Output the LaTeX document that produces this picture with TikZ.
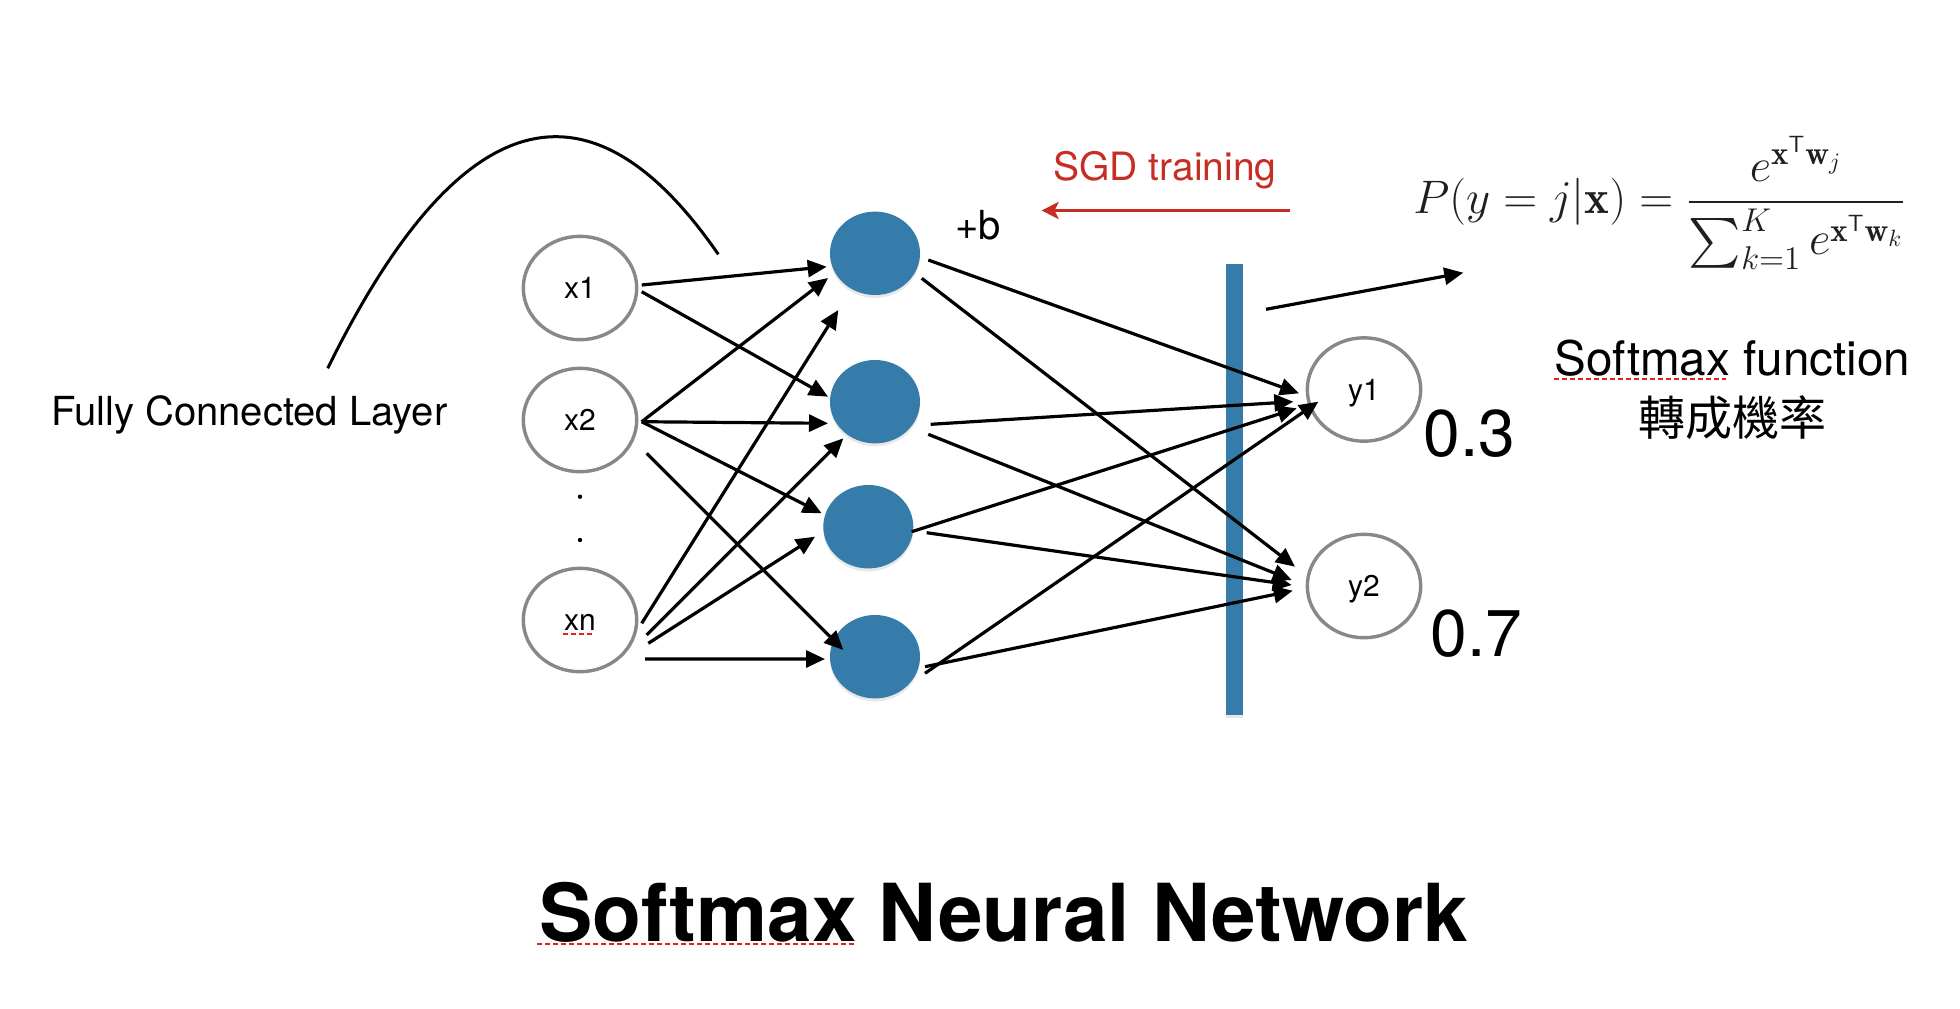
\RequirePackage{fix-cm}
\documentclass[tikz,border=0pt]{standalone}
\usepackage{amsmath}
\usepackage{fontspec}
\newfontfamily\hv{TeX Gyre Heros}
\newfontfamily\cjkfont{Noto Sans CJK TC}
\usetikzlibrary{arrows.meta,shapes.geometric,calc,shadows}
\definecolor{nnblue}{RGB}{54,124,170}
\definecolor{ringgray}{RGB}{134,136,140}
\definecolor{sgdred}{RGB}{200,45,35}
\definecolor{spellred}{RGB}{230,30,30}
\begin{document}
\begin{tikzpicture}[x=0.5pt,y=-0.5pt,
  inp/.style={ellipse, draw=ringgray, line width=1.7pt, minimum width=56.7pt,
    minimum height=51.7pt, inner sep=0pt, text height=10.5pt, text depth=0pt,
    font={\hv\fontsize{15}{18}\selectfont}},
  hid/.style={ellipse, fill=nnblue, minimum width=45pt, minimum height=41.7pt,
    inner sep=0pt, drop shadow={shadow xshift=0pt, shadow yshift=-1.5pt, opacity=0.18}},
  barstyle/.style={rectangle, fill=nnblue, minimum width=8.5pt, minimum height=225.5pt,
    inner sep=0pt, drop shadow={shadow xshift=0pt, shadow yshift=-1.5pt, opacity=0.18}},
  dotnode/.style={circle, fill=black, inner sep=0pt, minimum size=2.2pt},
  arr/.style={-{Triangle[length=9.5pt,width=8.5pt]}, line width=1.6pt},
  redarr/.style={-{Stealth[length=8.5pt,width=8.5pt,inset=2pt]}, line width=1.8pt, draw=sgdred},
  spell/.style={draw=spellred, line width=1.4pt, dash pattern=on 2.4pt off 1.6pt},
  lbl/.style={inner sep=0pt, anchor=base west},
]
\useasboundingbox (0,0) rectangle (1960,1008);
\fill[white] (0,0) rectangle (1960,1008);

% input layer
\node[inp] (x1) at (580,288) {x1};
\node[inp] (x2) at (580,420) {x2};
\node[inp] (xn) at (580,620) {xn};
\node[dotnode] (d1) at (580,496.7) {};
\node[dotnode] (d2) at (580,540) {};

% hidden layer
\node[hid] (h1) at (875,253.3) {};
\node[hid] (h2) at (875,401.7) {};
\node[hid] (h3) at (868.3,526.7) {};
\node[hid] (h4) at (875,656.7) {};

% softmax bar and outputs
\node[barstyle] (bar) at (1234.5,489.5) {};
\node[inp] (y1) at (1364,389.5) {y1};
\node[inp] (y2) at (1364,586) {y2};

% labels
\node[lbl, font={\hv\fontsize{20}{24}\selectfont}] (fcl) at (51,425) {Fully Connected Layer};
\node[lbl, font={\hv\fontsize{20}{24}\selectfont}] (bias) at (955,239) {+b};
\node[lbl, text=sgdred, font={\hv\fontsize{19.5}{24}\selectfont}] (sgd) at (1053,180) {SGD training};
\node[lbl, font={\hv\fontsize{33}{40}\selectfont}] (p1) at (1423,456) {0.3};
\node[lbl, font={\hv\fontsize{33}{40}\selectfont}] (p2) at (1430,656) {0.7};
\node[lbl, font={\hv\fontsize{23.8}{28}\selectfont}] (sfn) at (1554,375) {Softmax function};
\node[inner sep=0pt, font={\cjkfont\fontsize{23.5}{28}\selectfont}] (prob) at (1732.5,417.5) {轉成機率};
\node[lbl, text=black!88, font={\fontsize{23.5}{28}\selectfont}] (fml) at (1413,213.3)
  {$\displaystyle P(y=j|\mathbf{x}) = \frac{e^{\mathbf{x}^{\mathsf{T}}\mathbf{w}_j}}{\sum_{k=1}^{K} e^{\mathbf{x}^{\mathsf{T}}\mathbf{w}_k}}$};
\node[lbl, font={\hv\bfseries\fontsize{40}{48}\selectfont}] (title) at (539,941) {Softmax Neural Network};

% spell-check underlines
\draw[spell] ($(xn)+(-16.7,14)$) -- ($(xn)+(13.3,14)$);
\draw[spell] ($(sfn.base west)+(0,4)$) -- ($(sfn.base west)+(172,4)$);
\draw[spell] ($(title.base west)+(-2,3)$) -- ($(title.base west)+(315,3)$);

% curve from label
\coordinate (fcend) at (718.3,254.3);
\draw[line width=1.5pt] ($(fcl.base west)+(276.7,-56.7)$) .. controls (459.4,100.9) and (589.6,68) .. (fcend);

% input -> hidden
\draw[arr] ($(x1)+(61.7,-3)$) -- ($(h1)+(-48.3,13.4)$);
\draw[arr] ($(x1)+(61.7,3.7)$) -- ($(h2)+(-47,-5)$);
\draw[arr] ($(x2)+(61.7,1.7)$) -- ($(h1)+(-47,24.7)$);
\draw[arr] ($(x2)+(61.7,1.7)$) -- ($(h2)+(-47,21.6)$);
\draw[arr] ($(x2)+(61.7,1.7)$) -- ($(h3)+(-46.6,-13.4)$);
\draw[arr] ($(x2)+(66.7,33.3)$) -- ($(h4)+(-31.7,-6.7)$);
\draw[arr] ($(xn)+(61.7,3.3)$) -- ($(h1)+(-36.7,56.7)$);
\draw[arr] ($(xn)+(66.7,15)$) -- ($(h2)+(-31.7,36.6)$);
\draw[arr] ($(xn)+(68.3,23.3)$) -- ($(h3)+(-53.3,10)$);
\draw[arr] ($(xn)+(65,39)$) -- ($(h4)+(-50,2.3)$);

% hidden -> output
\draw[arr] ($(h1)+(53.3,6.7)$) -- ($(y1)+(-65,3.8)$);
\draw[arr] ($(h1)+(46.7,25)$) -- ($(y2)+(-69,-19.3)$);
\draw[arr] ($(h2)+(55.7,22.6)$) -- ($(y1)+(-70.7,12.2)$);
\draw[arr] ($(h2)+(53.3,32.6)$) -- ($(y2)+(-72.3,-6)$);
\draw[arr] ($(h3)+(43.4,5)$) -- ($(y1)+(-67.3,18.8)$);
\draw[arr] ($(h3)+(58.4,6)$) -- ($(y2)+(-72.3,-1)$);
\draw[arr] ($(h4)+(50,16.6)$) -- ($(y1)+(-45.7,12.2)$);
\draw[arr] ($(h4)+(50,10)$) -- ($(y2)+(-71.3,4.7)$);

% bar -> formula
\draw[arr] ($(bar)+(31.5,-180.2)$) -- ($(fml.base west)+(50.3,59.4)$);

% SGD training arrow
\coordinate (sgdR) at (1290,210.5);
\coordinate (sgdL) at (1041.6,210.5);
\draw[redarr] (sgdR) -- (sgdL);
\end{tikzpicture}
\end{document}
